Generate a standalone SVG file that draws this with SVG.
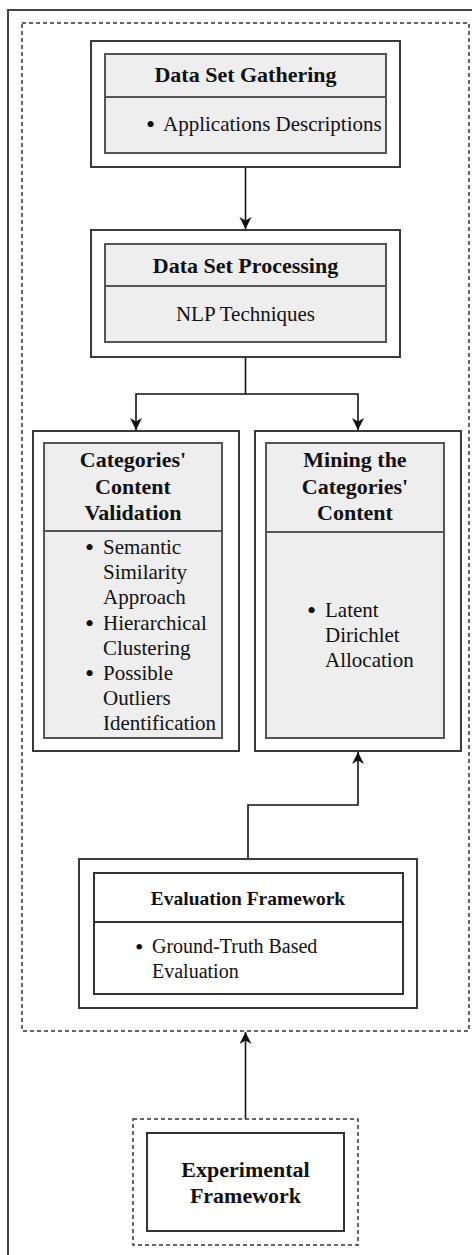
<svg xmlns="http://www.w3.org/2000/svg" width="472" height="1255" viewBox="0 0 472 1255">
<style>
.outer{fill:#fff;stroke:#3a3a3a;stroke-width:2}
.inner{fill:#eee;stroke:#555;stroke-width:2}
.innerw{fill:#fff;stroke:#333;stroke-width:2}
.div{stroke:#555;stroke-width:2}
.dash{fill:none;stroke:#333;stroke-width:1.5;stroke-dasharray:4 3}
.h{font-family:"Liberation Serif","Times New Roman",serif;font-weight:bold;font-size:22px;fill:#111;text-anchor:middle}
.b{font-family:"Liberation Serif","Times New Roman",serif;font-size:21px;fill:#111}
.u{font-family:"Liberation Serif","Times New Roman",serif;font-size:26px;fill:#111}
.c{fill:none;stroke:#111;stroke-width:1.6}
</style>
<defs>
<marker id="ah" markerWidth="14" markerHeight="14" refX="12" refY="6" orient="auto" markerUnits="userSpaceOnUse">
<path d="M0,0 L12,6 L0,12 L3.5,6 z" fill="#111"/>
</marker>
</defs>
<rect x="0" y="0" width="472" height="1255" fill="#fff"/>
<rect x="8" y="10" width="480" height="1260" fill="none" stroke="#444" stroke-width="2"/>
<rect class="dash" x="22" y="23" width="447" height="1008"/>

<g id="connectors">
<path class="c" d="M245.5,167 V229" marker-end="url(#ah)"/>
<path class="c" d="M245.5,357 V394 H136 V430" marker-end="url(#ah)"/>
<path class="c" d="M245.5,394 H358 V430" marker-end="url(#ah)"/>
<path class="c" d="M248,859 V805 H358 V752" marker-end="url(#ah)"/>
<path class="c" d="M245.5,1119 V1032" marker-end="url(#ah)"/>
</g>

<g id="gathering">
<rect class="outer" x="91" y="41" width="309" height="126"/>
<rect class="inner" x="105" y="54" width="281" height="99"/>
<line class="div" x1="105" y1="97" x2="386" y2="97"/>
<text class="h" x="245.5" y="82">Data Set Gathering</text>
<text class="u" x="146" y="133">•</text>
<text class="b" x="163" y="131">Applications Descriptions</text>
</g>

<g id="processing">
<rect class="outer" x="91" y="230" width="309" height="127"/>
<rect class="inner" x="105" y="244" width="281" height="98"/>
<line class="div" x1="105" y1="286" x2="386" y2="286"/>
<text class="h" x="245.5" y="273">Data Set Processing</text>
<text class="b" x="245.5" y="321" text-anchor="middle">NLP Techniques</text>
</g>

<g id="validation">
<rect class="outer" x="33" y="431" width="206" height="320"/>
<rect class="inner" x="44" y="443" width="178" height="295"/>
<line class="div" x1="44" y1="531" x2="222" y2="531"/>
<text class="h" x="133" y="467">Categories'</text>
<text class="h" x="133" y="493.5">Content</text>
<text class="h" x="133" y="520">Validation</text>
<text class="u" x="85" y="556">•</text>
<text class="b" x="103" y="554">Semantic</text>
<text class="b" x="103" y="579.2">Similarity</text>
<text class="b" x="103" y="604.4">Approach</text>
<text class="u" x="85" y="631.6">•</text>
<text class="b" x="103" y="629.6">Hierarchical</text>
<text class="b" x="103" y="654.8">Clustering</text>
<text class="u" x="85" y="682">•</text>
<text class="b" x="103" y="680">Possible</text>
<text class="b" x="103" y="705.2">Outliers</text>
<text class="b" x="103" y="730.4">Identification</text>
</g>

<g id="mining">
<rect class="outer" x="255" y="431" width="206" height="320"/>
<rect class="inner" x="266" y="443" width="178" height="295"/>
<line class="div" x1="266" y1="532" x2="444" y2="532"/>
<text class="h" x="355" y="467">Mining the</text>
<text class="h" x="355" y="493.5">Categories'</text>
<text class="h" x="355" y="520">Content</text>
<text class="u" x="307" y="619">•</text>
<text class="b" x="325" y="617">Latent</text>
<text class="b" x="325" y="642">Dirichlet</text>
<text class="b" x="325" y="667">Allocation</text>
</g>

<g id="evaluation">
<rect class="outer" x="79" y="859" width="338" height="149"/>
<rect class="innerw" x="94" y="873" width="309" height="121"/>
<line x1="94" y1="922" x2="403" y2="922" stroke="#333" stroke-width="2"/>
<text class="h" x="248" y="905" style="font-size:19.5px">Evaluation Framework</text>
<text class="u" x="135" y="955" style="font-size:24px">•</text>
<text class="b" x="152" y="953" style="font-size:20px">Ground-Truth Based</text>
<text class="b" x="152" y="978" style="font-size:20px">Evaluation</text>
</g>

<g id="experimental">
<rect class="dash" x="133" y="1119" width="225" height="126" style="fill:#fff"/>
<rect class="innerw" x="147" y="1133" width="197" height="98"/>
<text class="h" x="245.5" y="1177">Experimental</text>
<text class="h" x="245.5" y="1203">Framework</text>
</g>
</svg>
